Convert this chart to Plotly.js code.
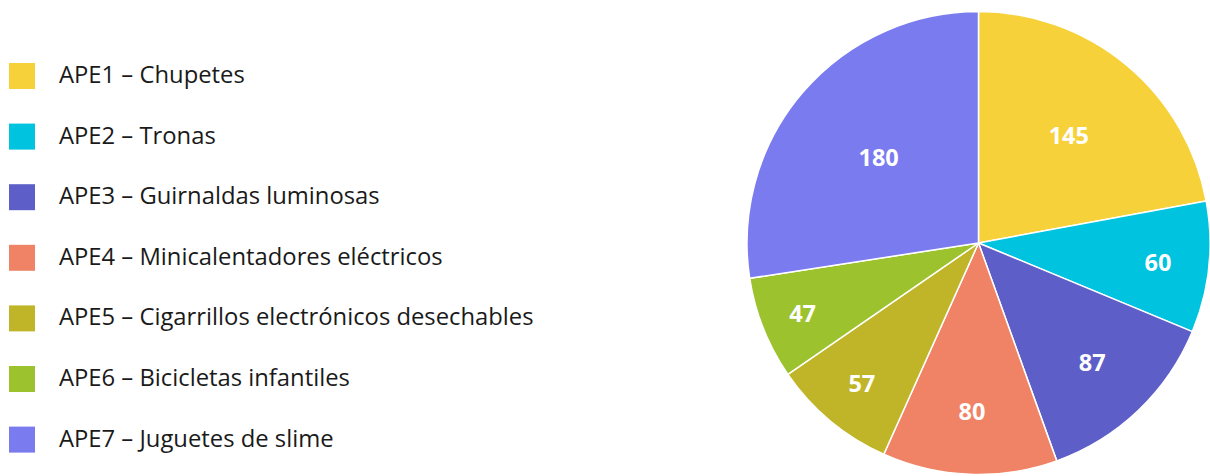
<!DOCTYPE html>
<html>
<head>
<meta charset="utf-8">
<script src="https://cdn.plot.ly/plotly-3.0.1.min.js"></script>
<style>html,body{margin:0;padding:0;background:#fff;}#chart{width:1210px;height:476px;}</style>
</head>
<body>
<div id="chart"></div>
<script>
const categories = [
  "APE1 – Chupetes",
  "APE2 – Tronas",
  "APE3 – Guirnaldas luminosas",
  "APE4 – Minicalentadores eléctricos",
  "APE5 – Cigarrillos electrónicos desechables",
  "APE6 – Bicicletas infantiles",
  "APE7 – Juguetes de slime"
];
const values = [145, 60, 87, 80, 57, 47, 180];
const colors = ["#F7D139", "#00C3DF", "#5E5EC8", "#F08365", "#C0B529", "#9CC22E", "#7B7BF0"];

const W = 1210, H = 476;
const firstRow = 76, rowStep = 60.6, box = 26;

const shapes = [];
const annotations = [];
categories.forEach((c, i) => {
  const cy = firstRow + i * rowStep;
  shapes.push({
    type: "rect", xref: "paper", yref: "paper",
    x0: 9 / W, x1: (9 + box) / W,
    y0: 1 - (cy + box / 2) / H, y1: 1 - (cy - box / 2) / H,
    fillcolor: colors[i], line: {width: 0}
  });
  annotations.push({
    xref: "paper", yref: "paper", x: 57 / W, y: 1 - (cy - 2) / H,
    xanchor: "left", yanchor: "middle", showarrow: false,
    text: c, font: {family: "Open Sans", size: 23.8, color: "#1a1a1a"}
  });
});

const trace = {
  type: "pie",
  labels: categories,
  values: values,
  sort: false,
  direction: "clockwise",
  rotation: 0,
  marker: {colors: colors, line: {color: "#ffffff", width: 1.5}},
  textinfo: "value",
  textposition: "inside",
  insidetextorientation: "horizontal",
  textfont: {family: "Open Sans", size: 23.5, color: "#ffffff", weight: "bold"},
  hoverinfo: "label+value",
  domain: {x: [747 / W, 1], y: [1 / H, 465 / H]},
  showlegend: false
};

const layout = {
  width: W, height: H,
  margin: {l: 0, r: 0, t: 0, b: 0},
  paper_bgcolor: "#ffffff",
  showlegend: false,
  shapes: shapes,
  annotations: annotations
};

Plotly.newPlot("chart", [trace], layout, {displayModeBar: false, staticPlot: true});
</script>
</body>
</html>
